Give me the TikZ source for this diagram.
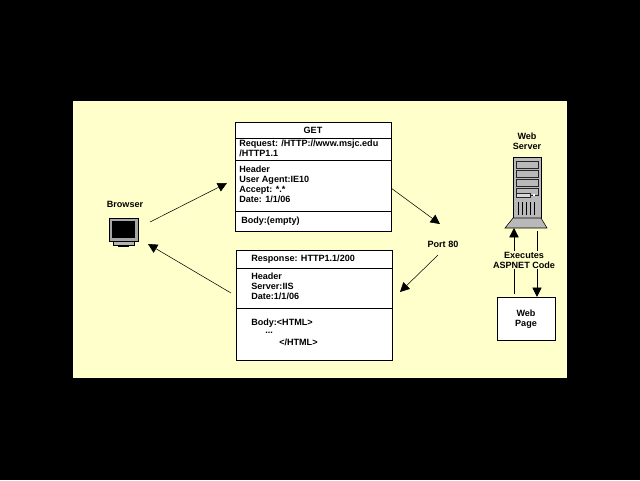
\documentclass[tikz,border=0pt]{standalone}
\usepackage{fontspec}
\setmainfont{Liberation Sans}
\usetikzlibrary{arrows.meta}
\definecolor{panel}{HTML}{FFFFCC}
\begin{document}
\begin{tikzpicture}[x=0.75pt,y=-0.75pt,
  txt/.style={font=\bfseries\fontsize{6.8}{7.4}\selectfont, inner sep=0pt, align=left},
  ctxt/.style={font=\bfseries\fontsize{6.8}{7.4}\selectfont, inner sep=1pt, align=center},
  box/.style={draw=black, fill=white, line width=0.5pt},
  arr/.style={-{Triangle[length=7pt,width=7pt]}, line width=0.4pt}]
\fill[black] (0,0) rectangle (640,480);
\fill[panel] (73,101) rectangle (567,378);
% GET box
\draw[box] (235,122) rectangle (391,231);
\draw (235,138) -- (391,138);
\draw (235,160) -- (391,160);
\draw (235,211) -- (391,211);
\node[ctxt] (get) at (313,130) {GET};
\node[txt, anchor=north west] (req) at (239,140) {Request: /HTTP://www.msjc.edu\\/HTTP1.1};
\node[txt, anchor=north west] (hdr) at (239,166) {Header\\User Agent:IE10\\Accept: *.*\\Date: 1/1/06};
\node[txt, anchor=west] (body) at (241,221) {Body:(empty)};
\coordinate (getL) at (227,183);
\coordinate (getR) at (391,188);
% Response box
\draw[box] (236,250) rectangle (392,360);
\draw (236,268) -- (392,268);
\draw (236,308) -- (392,308);
\node[txt, anchor=west] (resp) at (251,259) {Response: HTTP1.1/200};
\node[txt, anchor=north west] (rhdr) at (251,273) {Header\\Server:IIS\\Date:1/1/06};
\node[txt, anchor=west] (rb1) at (251,323) {Body:<HTML>};
\node[txt, anchor=west] (rb2) at (265,333) {...};
\node[txt, anchor=west] (rb3) at (279,342) {</HTML>};
\coordinate (respL) at (231,293);
\coordinate (respR) at (400,292);
% Browser
\node[ctxt] (blabel) at (125,204) {Browser};
\fill[gray!70] (109,218) rectangle (138,241);
\draw[black, line width=0.6pt] (109,218) rectangle (138,241);
\fill[black] (112,221) rectangle (135,238);
\fill[gray!60] (113,241) rectangle (134,245);
\draw[black,line width=0.4pt] (113,241) rectangle (134,245);
\fill[black] (118,245) rectangle (129,247);
\coordinate (bro1) at (150,222);
\coordinate (bro2) at (148,244);
\draw[arr] (bro1) -- (getL);
\draw[arr] (respL) -- (bro2);
% Port 80
\node[ctxt] (port) at (443,244) {Port 80};
\draw[arr] (getR) -- (440,224);
\draw[arr] (438,255) -- (respR);
% Web server
\node[ctxt] (ws) at (527,141) {Web\\Server};
\fill[gray!55] (513,157) rectangle (541,218);
\draw[black, line width=0.6pt] (513,157) rectangle (541,218);
\foreach \yy in {161,170,179,188} \draw[gray!30!black] (516,\yy) rectangle (538,\yy+7);
\draw[gray!30!black, fill=gray!30] (516,193) rectangle (530,197);
\fill[white] (533,194) rectangle (535,196);
\foreach \xx in {518,522,526,530,534} \draw[black,line width=0.7pt] (\xx,202) -- (\xx,215);
\filldraw[fill=gray!55, draw=black] (513,218) -- (541,218) -- (547,228) -- (505,228) -- cycle;
\node[box, minimum width=43.5pt, minimum height=32pt, inner sep=0pt] (wp) at (526,318.5) {};
\node[ctxt] (wpt) at (526,319) {Web\\Page};
\coordinate (srvB1) at (514,228);
\coordinate (srvB2) at (537,231);
\draw[arr] (514,294) -- (srvB1);
\draw[arr] (srvB2) -- (wp.north -| srvB2);
\node[ctxt, fill=panel] (exec) at (524,260) {Executes\\ASPNET Code};
\end{tikzpicture}
\end{document}
